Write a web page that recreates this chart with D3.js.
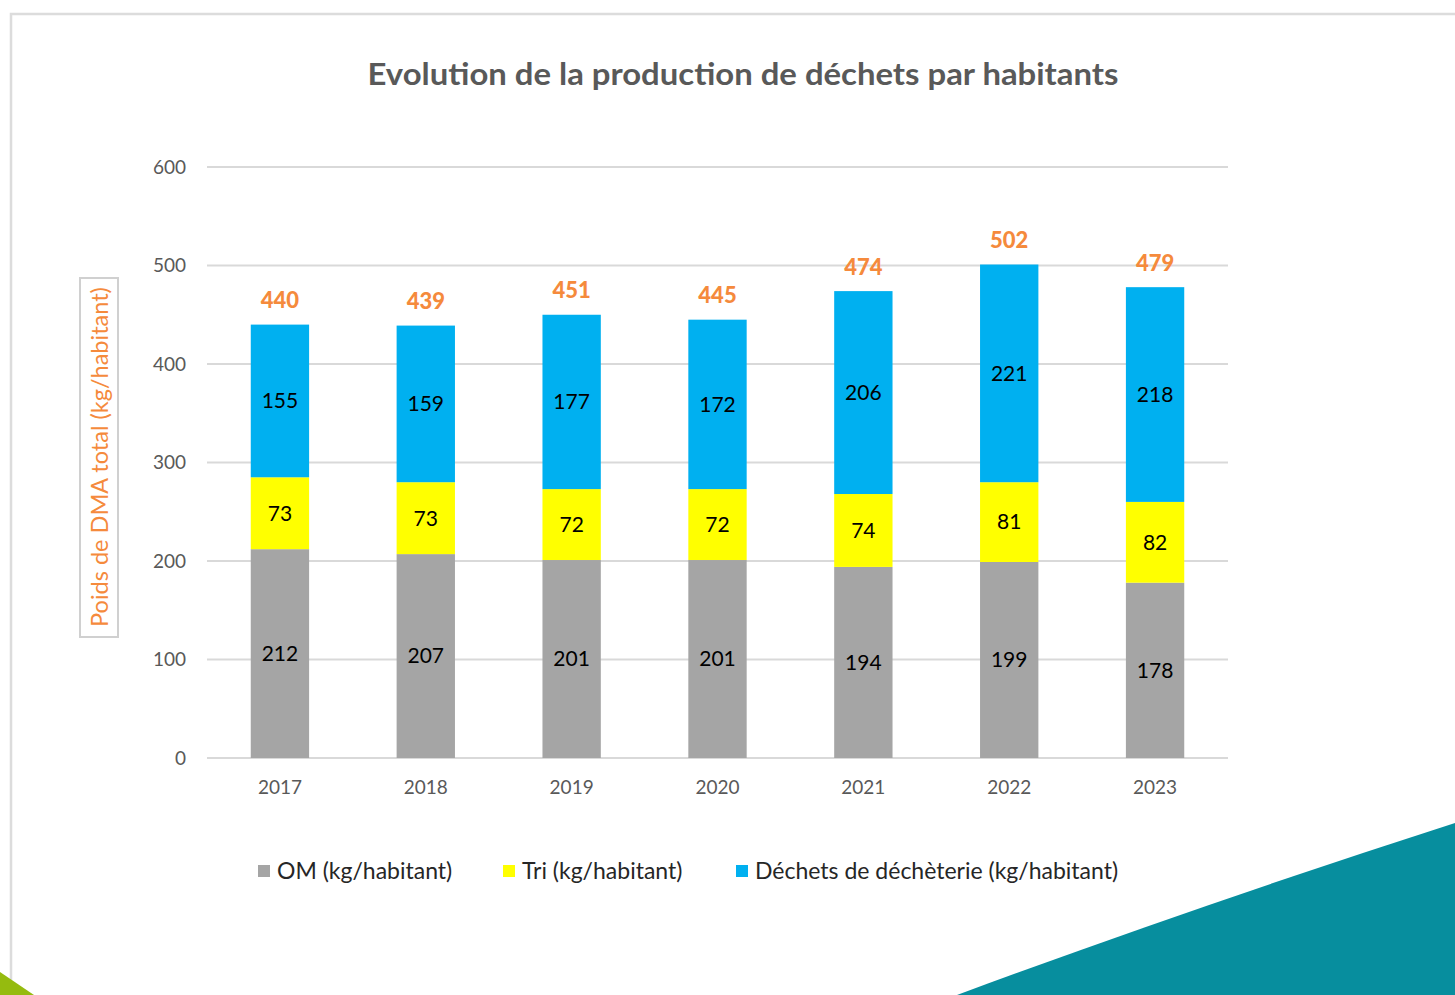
<!DOCTYPE html>
<html>
<head>
<meta charset="utf-8">
<script src="https://cdn.jsdelivr.net/npm/d3@7/dist/d3.min.js"></script>
<style>
  body { margin: 0; background: #fff; }
  svg { display: block; }
</style>
</head>
<body>
<div id="chart"></div>
<script>
const years = ["2017", "2018", "2019", "2020", "2021", "2022", "2023"];
const om = [212, 207, 201, 201, 194, 199, 178];
const tri = [73, 73, 72, 72, 74, 81, 82];
const decheterie = [155, 159, 177, 172, 206, 221, 218];
const totals = [440, 439, 451, 445, 474, 502, 479];
const yTicks = [0, 100, 200, 300, 400, 500, 600];

const seriesNames = ["OM (kg/habitant)", "Tri (kg/habitant)", "Déchets de déchèterie (kg/habitant)"];
const colors = ["#a5a5a5", "#ffff00", "#00b0f0"];

const width = 1455, height = 995;
const margin = { top: 167, right: 227, bottom: 237, left: 207 };
const font = "Lato, 'Open Sans', sans-serif";

const svg = d3.select("#chart").append("svg")
  .attr("width", width)
  .attr("height", height);

// page frame + corner decorations
svg.append("rect")
  .attr("x", 11).attr("y", 14)
  .attr("width", width).attr("height", height)
  .attr("fill", "#fff")
  .attr("stroke", "#dcdcdc")
  .attr("stroke-width", 2.5);

svg.append("path")
  .attr("d", "M957,995 Q1200,905 1455,823 L1455,995 Z")
  .attr("fill", "#078e9e");

svg.append("path")
  .attr("d", "M0,972 L34,995 L0,995 Z")
  .attr("fill", "#95bb0f");

const table = years.map((y, i) => ({ year: y, om: om[i], tri: tri[i], dech: decheterie[i], total: totals[i] }));
const keys = ["om", "tri", "dech"];
const stacked = d3.stack().keys(keys)(table);

const x = d3.scaleBand()
  .domain(years)
  .range([margin.left, width - margin.right])
  .paddingInner(0.6)
  .paddingOuter(0.3);

const y = d3.scaleLinear()
  .domain([0, 600])
  .range([height - margin.bottom, margin.top]);

// gridlines
svg.append("g")
  .selectAll("line")
  .data(yTicks)
  .join("line")
  .attr("x1", margin.left)
  .attr("x2", width - margin.right)
  .attr("y1", d => y(d))
  .attr("y2", d => y(d))
  .attr("stroke", "#d9d9d9")
  .attr("stroke-width", 2);

// y axis labels
const yAxis = svg.append("g")
  .attr("transform", `translate(${margin.left - 21},0)`)
  .call(d3.axisLeft(y).tickValues(yTicks).tickSize(0).tickPadding(0));
yAxis.select(".domain").remove();
yAxis.selectAll("text")
  .attr("font-family", font)
  .attr("font-size", 19)
  .attr("fill", "#595959");

// x axis labels
const xAxis = svg.append("g")
  .attr("transform", `translate(0,${y(0) + 22})`)
  .call(d3.axisBottom(x).tickSize(0).tickPadding(0));
xAxis.select(".domain").remove();
xAxis.selectAll("text")
  .attr("font-family", font)
  .attr("font-size", 19)
  .attr("fill", "#595959")
  .attr("dy", "0.71em");

// bars
const layers = svg.append("g")
  .selectAll("g")
  .data(stacked)
  .join("g")
  .attr("fill", (d, i) => colors[i]);

layers.selectAll("rect")
  .data(d => d)
  .join("rect")
  .attr("x", d => x(d.data.year))
  .attr("width", x.bandwidth())
  .attr("y", d => y(d[1]))
  .attr("height", d => y(d[0]) - y(d[1]));

// segment values
layers.selectAll("text")
  .data(d => d)
  .join("text")
  .attr("x", d => x(d.data.year) + x.bandwidth() / 2)
  .attr("y", d => (y(d[0]) + y(d[1])) / 2)
  .attr("dy", "0.35em")
  .attr("text-anchor", "middle")
  .attr("font-family", font)
  .attr("font-size", 21)
  .attr("fill", "#000")
  .text(d => d[1] - d[0]);

// totals
svg.append("g")
  .selectAll("text")
  .data(table)
  .join("text")
  .attr("x", d => x(d.year) + x.bandwidth() / 2)
  .attr("y", d => y(d.om + d.tri + d.dech) - 24)
  .attr("dy", "0.35em")
  .attr("text-anchor", "middle")
  .attr("font-family", font)
  .attr("font-weight", 900)
  .attr("font-size", 22)
  .attr("fill", "#f58a3c")
  .text(d => d.total);

// title
svg.append("text")
  .attr("x", 743)
  .attr("y", 74)
  .attr("dy", "0.35em")
  .attr("text-anchor", "middle")
  .attr("font-family", font)
  .attr("font-weight", "bold")
  .attr("font-size", 30)
  .attr("textLength", 751)
  .attr("lengthAdjust", "spacingAndGlyphs")
  .attr("fill", "#595959")
  .text("Evolution de la production de déchets par habitants");

// y axis title in a box
svg.append("rect")
  .attr("x", 80).attr("y", 278)
  .attr("width", 38).attr("height", 359)
  .attr("fill", "none")
  .attr("stroke", "#d0d0d0")
  .attr("stroke-width", 2);

svg.append("text")
  .attr("transform", "translate(100,457) rotate(-90)")
  .attr("dy", "0.35em")
  .attr("text-anchor", "middle")
  .attr("font-family", font)
  .attr("font-size", 23.5)
  .attr("fill", "#f58a3c")
  .text("Poids de DMA total (kg/habitant)");

// legend
const legendX = [258, 503, 736];
const legend = svg.append("g")
  .selectAll("g")
  .data(seriesNames)
  .join("g")
  .attr("transform", (d, i) => `translate(${legendX[i]},871)`);

legend.append("rect")
  .attr("x", 0).attr("y", -6)
  .attr("width", 12).attr("height", 12)
  .attr("fill", (d, i) => colors[i]);

legend.append("text")
  .attr("x", 19)
  .attr("dy", "0.35em")
  .attr("font-family", font)
  .attr("font-size", 23)
  .attr("fill", "#262626")
  .text(d => d);
</script>
</body>
</html>
